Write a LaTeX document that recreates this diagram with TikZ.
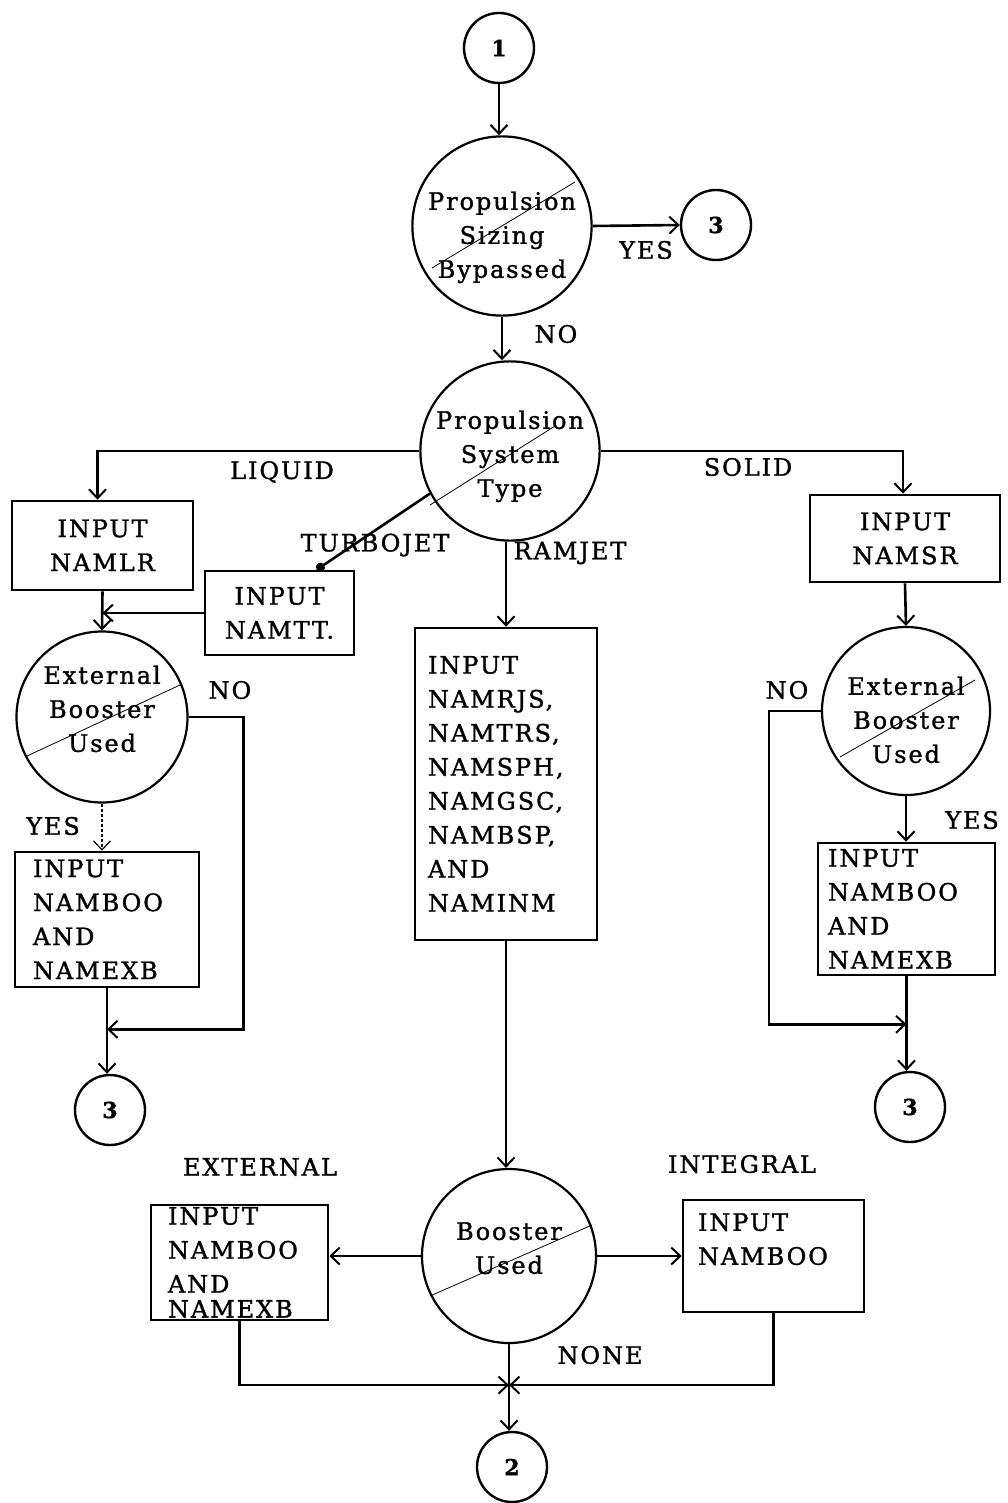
\documentclass[tikz,border=0pt]{standalone}
\usepackage{fontspec}
\setmainfont{DejaVu Serif}[LetterSpace=8,FakeBold=1.3]
\usetikzlibrary{arrows.meta,calc}
\newcommand{\shifted}[2]{\raisebox{#1}[\height][\depth]{\begin{tabular}{@{}c@{}}#2\end{tabular}}}
\begin{document}
\begin{tikzpicture}[x=1pt,y=-1pt,
  every node/.style={font=\fontsize{24}{34}\selectfont, inner sep=0pt},
  ln/.style={line width=2.6pt},
  arr/.style={ln, -{Straight Barb[length=9pt,width=17pt,line width=2pt]}},
  dec/.style={draw, circle, line width=2.2pt, minimum size=#1, align=center},
  conn/.style={draw, circle, line width=2.4pt, minimum size=70pt, font=\fontsize{22}{24}\selectfont\bfseries},
  bx/.style={draw, rectangle, line width=2.6pt},
  guide/.style={line width=0.8pt}]
\useasboundingbox (0,0) rectangle (1008,1503);

% nodes
\node[conn] (c1) at (499,48) {1};
\node[dec=174pt] (bypass) at (502,226) {\shifted{-11pt}{Propulsion\\Sizing\\Bypassed}};
\node[conn] (c3a) at (716,225) {3};
\node[dec=174pt] (type) at (510,451) {\shifted{-5pt}{Propulsion\\System\\Type}};
\node[bx, minimum width=181pt, minimum height=89pt, align=center] (lr) at (102.5,545.5) {INPUT\\NAMLR};
\node[bx, minimum width=149pt, minimum height=84pt, align=center] (tt) at (279.5,613) {INPUT\\NAMTT.};
\node[bx, minimum width=190pt, minimum height=87pt, align=center] (sr) at (905,538.5) {INPUT\\NAMSR};
\node[dec=171pt] (extL) at (102,717) {\shifted{6pt}{External\\Booster\\Used}};
\node[dec=168pt] (extR) at (906,711) {\shifted{-11pt}{External\\Booster\\Used}};
\node[bx, minimum width=184pt, minimum height=135pt, text width=148pt, align=left] (booL) at (107,919.5) {INPUT\\NAMBOO\\AND\\NAMEXB};
\node[bx, minimum width=177pt, minimum height=132pt, text width=157pt, align=left] (booR) at (906.5,909) {INPUT\\NAMBOO\\AND\\NAMEXB};
\node[bx, minimum width=182pt, minimum height=312pt, text width=156pt, align=left] (ram) at (506,784) {INPUT\\NAMRJS,\\NAMTRS,\\NAMSPH,\\NAMGSC,\\NAMBSP,\\AND\\NAMINM\\[18pt]};
\node[conn] (c3b) at (110,1110) {3};
\node[conn] (c3c) at (910,1107) {3};
\node[dec=174pt] (boost) at (509,1256) {\shifted{6pt}{Booster\\Used}};
\node[bx, minimum width=177pt, minimum height=115pt, text width=143pt, align=left] (bbL) at (239.5,1262.5) {INPUT\\NAMBOO\\AND\\[-9pt]NAMEXB};
\node[bx, minimum width=181pt, minimum height=112pt, text width=151pt, align=left] (bbR) at (773.5,1256) {INPUT\\NAMBOO\\\mbox{}};
\node[conn] (c2) at (512,1467) {2};

% labels
\node (lyes1) at (646,250) {YES};
\node (lno1) at (556,334) {NO};
\node (lliq) at (282,472) {LIQUID};
\node (lsol) at (748,467) {SOLID};
\node (lturbo) at (375,545) {TURBOJET};
\node (lram) at (570,553) {RAMJET};
\node (lno2) at (230,690) {NO};
\node (lyes2) at (53,826) {YES};
\node (lno3) at (787,690) {NO};
\node (lyes3) at (972,820) {YES};
\node (lext) at (260,1167) {EXTERNAL};
\node (lint) at (742,1164) {INTEGRAL};
\node (lnone) at (600,1355) {NONE};

% guide strokes inside decision circles
\draw[guide] ($(bypass)+(-70,42)$) -- ($(bypass)+(73,-44)$);
\draw[guide] ($(type)+(-80,54)$) -- ($(type)+(45,-25)$);
\draw[guide] ($(extL)+(-75,39)$) -- ($(extL)+(78,-32)$);
\draw[guide] ($(extR)+(-66,46)$) -- ($(extR)+(69,-31)$);
\draw[guide] ($(boost)+(-79,40)$) -- ($(boost)+(83,-31)$);

% coordinates for joins
\coordinate (j2) at ($(booL.south)+(0,41)$);
\coordinate (j3) at ($(booR.south)+(0,48)$);
\coordinate (j4) at ($(boost.south)+(0,41)$);

% connectors
\draw[arr] (c1) -- (c1 |- bypass.north);
\draw[arr] (bypass.east) -- (c3a.west);
\draw[arr] (bypass.south) -- (bypass.south |- type.north);
\draw[arr] (type.west) -| ($(lr.north)+(-5,0)$);
\draw[ln, -{Circle[length=9pt]}] (type.208) -- ($(tt.north west)+(113,0)$);
\draw[arr] (type.south -| ram.north) -- (ram.north);
\draw[arr] (type.east) -| ($(sr.north)+(-2,0)$);
\draw[arr] (lr.south) -- (extL.north);
\draw[arr] (tt.west) -- (tt.west -| lr.south);
\draw[arr] (extL.east) -- ++(55,0) |- (j2);
\draw[line width=1.2pt, densely dashed, -{Straight Barb[length=9pt,width=17pt,line width=1.2pt]}] (extL.south) -- (extL.south |- booL.north);
\draw[arr] (booL.south) -- (booL.south |- c3b.north);
\draw[arr] (ram.south) -- (ram.south |- boost.north);
\draw[arr] (sr.south) -- (extR.north);
\draw[arr] (extR.west) -- ++(-52,0) |- (j3);
\draw[arr] (extR.south) -- (extR.south |- booR.north);
\draw[arr] (booR.south) -- (booR.south |- c3c.north);
\draw[arr] (boost.west) -- (boost.west -| bbL.east);
\draw[arr] (boost.east) -- (boost.east -| bbR.west);
\draw[arr] (bbL.south) |- (j4);
\draw[arr] (bbR.south) |- (j4);
\draw[arr] (boost.south) -- (boost.south |- c2.north);
\end{tikzpicture}
\end{document}
